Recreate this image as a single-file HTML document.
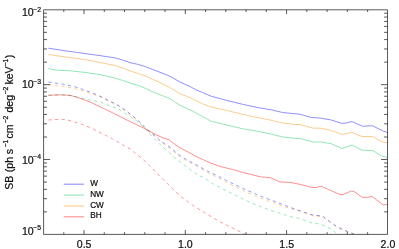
<!DOCTYPE html><html><head><meta charset="utf-8"><style>html,body{margin:0;padding:0;background:#fff}svg{display:block;will-change:transform}.c{mix-blend-mode:multiply}text{font-family:"Liberation Sans",sans-serif;fill:#111;stroke:#111;stroke-width:0.22px}</style></head><body>
<svg width="399" height="249" viewBox="0 0 399 249">
<rect width="399" height="249" fill="#fff"/>
<polyline class="c" points="48.40,48.20 65.00,50.75 77.50,52.50 90.00,54.25 100.00,55.60 115.00,57.90 122.50,60.00 130.00,62.60 137.60,64.30 145.00,66.50 152.50,69.40 165.00,74.25 170.00,76.25 180.00,82.00 190.00,86.50 196.25,90.00 202.50,92.50 211.25,96.25 222.50,99.25 230.00,101.25 242.50,104.25 255.00,107.00 267.50,109.25 270.00,109.50 282.50,112.50 295.00,113.75 300.00,114.25 311.25,117.50 320.00,118.00 331.25,120.00 341.25,123.25 345.00,123.25 352.00,121.60 362.50,126.25 372.50,125.75 382.50,130.75 387.50,132.50" fill="none" stroke="#8c8cff" stroke-width="0.97"/>
<polyline class="c" points="48.40,68.30 52.00,69.50 56.00,70.10 70.00,70.80 85.00,72.40 100.00,74.60 107.50,76.30 115.00,78.10 122.50,80.40 130.00,83.00 137.60,85.30 141.40,86.50 152.50,91.75 165.00,96.75 170.00,98.75 180.00,105.25 192.50,111.00 202.50,116.50 211.25,121.25 230.00,125.75 242.50,128.75 255.00,130.75 267.50,133.25 270.00,133.75 282.50,137.00 295.00,138.25 301.25,138.75 312.50,142.00 321.25,142.00 331.25,143.75 342.00,148.50 352.00,145.00 362.00,150.25 372.50,150.50 382.50,156.25 387.50,157.50" fill="none" stroke="#8fe6b4" stroke-width="0.97"/>
<polyline class="c" points="48.40,54.50 65.00,56.90 77.50,58.50 90.00,60.50 100.00,62.50 115.00,65.50 122.50,67.90 130.00,70.90 137.60,73.30 145.00,75.90 152.50,79.20 165.00,85.00 170.00,87.50 180.00,93.75 192.50,98.75 202.50,103.75 211.25,107.00 222.50,109.50 230.00,111.25 242.50,114.25 255.00,117.00 267.50,119.50 270.00,120.00 282.50,123.00 295.00,124.50 300.00,124.50 312.50,128.00 321.25,128.25 331.25,130.50 342.00,134.50 352.00,132.50 362.00,136.50 372.50,136.50 382.50,142.00 387.50,142.50" fill="none" stroke="#ffc88c" stroke-width="0.97"/>
<polyline class="c" points="48.40,95.30 60.00,94.80 70.00,95.30 77.50,97.40 90.00,102.00 102.50,107.90 112.50,112.80 125.00,119.10 137.50,125.20 146.25,129.30 150.00,131.40 157.00,135.30 164.00,138.20 169.00,139.70 174.00,143.80 178.00,146.60 185.00,150.50 190.00,153.00 195.00,155.80 200.00,158.30 205.00,160.50 210.00,162.80 215.00,164.60 220.00,166.40 232.50,169.50 245.00,173.00 261.25,177.00 270.00,177.50 280.00,182.00 290.00,182.40 300.90,184.50 311.90,187.50 316.00,187.50 321.40,186.20 330.00,190.30 340.00,194.50 343.00,194.50 351.50,191.00 354.00,191.50 362.20,197.30 367.70,197.30 372.00,196.50 382.90,204.70 387.50,204.70" fill="none" stroke="#ff8c8c" stroke-width="0.97"/>
<polyline class="c" points="48.40,95.20 60.00,94.80 70.00,95.40 77.50,97.20 90.00,100.00 101.00,102.30 106.00,104.30 112.10,106.60 118.10,108.60 123.60,112.10 128.60,115.60 133.70,119.10 137.50,121.50 146.25,129.50 151.40,135.70 156.30,140.70 161.20,145.60 166.20,150.00 171.10,154.30 175.30,158.30 180.00,162.00 192.50,171.25 200.00,176.00 205.00,178.25 212.50,183.50 220.00,187.50 230.00,192.50 242.50,198.75 255.00,204.50 267.50,209.25 277.50,212.50 290.00,216.40 293.50,217.20 300.00,218.60 306.60,221.10 312.60,223.30 318.60,223.80 324.60,225.60 330.40,228.90 335.60,232.50 337.20,234.00" fill="none" stroke="#8fe6b4" stroke-width="0.9" stroke-dasharray="3.2 3.4"/>
<polyline class="c" points="48.40,84.50 65.00,86.75 77.50,89.25 90.00,93.25 97.50,95.80 104.50,99.00 110.60,102.00 116.10,104.50 121.60,108.10 126.60,111.90 131.70,116.30 136.70,119.80 146.25,129.60 150.00,133.00 155.60,137.20 159.80,141.20 164.70,144.70 170.40,148.50 175.50,153.00 180.00,156.60 185.60,160.20 191.10,163.30 196.60,166.30 202.10,169.40 207.70,172.70 217.50,177.60 230.00,184.20 242.00,190.00 248.00,192.80 253.80,195.00 259.50,197.70 265.50,200.00 271.50,202.00 277.60,204.10 283.10,206.10 289.10,208.20 296.00,210.00 301.50,211.60 307.60,214.00 313.60,215.90 320.10,216.30 322.50,216.50 325.20,218.70 330.70,222.70 336.50,226.90 341.80,229.50 347.90,232.20 354.00,234.60" fill="none" stroke="#ffc88c" stroke-width="0.9" stroke-dasharray="3.2 3.4"/>
<polyline class="c" points="48.40,82.00 65.00,84.50 77.50,87.50 90.00,92.00 97.50,95.00 104.50,98.40 110.60,101.60 116.10,104.10 121.60,107.50 126.60,111.10 131.70,115.40 136.70,118.90 146.25,128.60 150.00,132.00 155.60,136.20 159.80,140.20 164.70,143.70 170.40,147.50 175.50,152.00 180.00,155.60 185.60,159.00 191.10,162.10 196.60,165.10 202.10,168.10 207.70,171.30 217.50,175.80 230.00,182.30 242.00,188.00 248.00,190.80 253.80,193.00 259.50,195.70 265.50,198.10 271.50,200.20 277.60,202.50 283.10,204.60 289.10,206.90 296.00,209.50 301.50,211.20 307.60,213.40 313.60,215.30 320.10,215.70 322.50,215.90 325.20,218.10 330.70,222.10 336.50,226.30 341.80,228.90 347.90,231.60 354.00,234.00" fill="none" stroke="#8c8cff" stroke-width="0.9" stroke-dasharray="3.2 3.4"/>
<polyline class="c" points="48.40,120.00 60.00,119.25 65.00,119.50 72.50,121.25 82.50,124.50 90.00,127.50 97.50,131.25 105.00,135.00 112.50,138.75 125.00,146.25 130.00,148.75 137.50,155.00 142.50,158.75 155.00,171.25 167.50,183.75 180.00,196.00 192.50,205.20 205.00,213.00 209.00,215.30 217.50,220.40 220.70,222.10 230.00,226.80 237.90,230.60 245.00,234.20" fill="none" stroke="#ff8c8c" stroke-width="0.9" stroke-dasharray="3.2 3.4"/>
<path d="M43.6,9.8H387.5V234.4H43.6ZM63.77,234.4v-2.2M63.77,9.8v2.2M84.03,234.4v-4.3M84.03,9.8v4.3M104.28,234.4v-2.2M104.28,9.8v2.2M124.53,234.4v-2.2M124.53,9.8v2.2M144.79,234.4v-2.2M144.79,9.8v2.2M165.05,234.4v-2.2M165.05,9.8v2.2M185.30,234.4v-4.3M185.30,9.8v4.3M205.56,234.4v-2.2M205.56,9.8v2.2M225.81,234.4v-2.2M225.81,9.8v2.2M246.07,234.4v-2.2M246.07,9.8v2.2M266.32,234.4v-2.2M266.32,9.8v2.2M286.58,234.4v-4.3M286.58,9.8v4.3M306.83,234.4v-2.2M306.83,9.8v2.2M327.09,234.4v-2.2M327.09,9.8v2.2M347.34,234.4v-2.2M347.34,9.8v2.2M367.60,234.4v-2.2M367.60,9.8v2.2M43.6,211.86h3.4M387.5,211.86h-3.4M43.6,198.68h3.4M387.5,198.68h-3.4M43.6,189.33h3.4M387.5,189.33h-3.4M43.6,182.07h3.4M387.5,182.07h-3.4M43.6,176.14h3.4M387.5,176.14h-3.4M43.6,171.13h3.4M387.5,171.13h-3.4M43.6,166.79h3.4M387.5,166.79h-3.4M43.6,162.96h3.4M387.5,162.96h-3.4M43.6,159.53h6.5M387.5,159.53h-6.5M43.6,137.00h3.4M387.5,137.00h-3.4M43.6,123.81h3.4M387.5,123.81h-3.4M43.6,114.46h3.4M387.5,114.46h-3.4M43.6,107.20h3.4M387.5,107.20h-3.4M43.6,101.28h3.4M387.5,101.28h-3.4M43.6,96.26h3.4M387.5,96.26h-3.4M43.6,91.92h3.4M387.5,91.92h-3.4M43.6,88.09h3.4M387.5,88.09h-3.4M43.6,84.67h6.5M387.5,84.67h-6.5M43.6,62.13h3.4M387.5,62.13h-3.4M43.6,48.95h3.4M387.5,48.95h-3.4M43.6,39.59h3.4M387.5,39.59h-3.4M43.6,32.34h3.4M387.5,32.34h-3.4M43.6,26.41h3.4M387.5,26.41h-3.4M43.6,21.40h3.4M387.5,21.40h-3.4M43.6,17.06h3.4M387.5,17.06h-3.4M43.6,13.23h3.4M387.5,13.23h-3.4" fill="none" stroke="#2a2a2a" stroke-width="0.78"/>
<text x="84.12" y="248.1" font-size="10.55" text-anchor="middle">0.5</text>
<text x="185.40" y="248.1" font-size="10.55" text-anchor="middle">1.0</text>
<text x="286.68" y="248.1" font-size="10.55" text-anchor="middle">1.5</text>
<text x="387.95" y="248.1" font-size="10.55" text-anchor="middle">2.0</text>
<text x="22.0" y="16.25" font-size="10.55">10</text><text x="33.2" y="11.55" font-size="6.8">−2</text>
<text x="22.0" y="88.45" font-size="10.55">10</text><text x="33.2" y="83.75" font-size="6.8">−3</text>
<text x="22.0" y="163.85" font-size="10.55">10</text><text x="33.2" y="159.15" font-size="6.8">−4</text>
<text x="22.0" y="235.05" font-size="10.55">10</text><text x="33.2" y="230.35" font-size="6.8">−5</text>
<g transform="translate(12.5,189.2) rotate(-90)"><text x="-0.5" y="0" font-size="10.55">SB</text><text x="17.0" y="0" font-size="10.55">(ph</text><text x="35.0" y="0" font-size="10.55">s</text><text x="41.6" y="-4.3" font-size="6.9">−1</text><text x="50.6" y="0" font-size="10.55">cm</text><text x="65.6" y="-4.3" font-size="6.9">−2</text><text x="76.6" y="0" font-size="10.55">deg</text><text x="94.6" y="-4.3" font-size="6.9">−2</text><text x="104.6" y="0" font-size="10.55">keV</text><text x="122.6" y="-4.3" font-size="6.9">−1</text><text x="130.9" y="0" font-size="10.55">)</text></g>
<line x1="63.7" x2="83.9" y1="184.20" y2="184.20" stroke="#8c8cff" stroke-width="1.1"/>
<text x="90.2" y="185.85" font-size="8.2">W</text>
<line x1="63.7" x2="83.9" y1="195.07" y2="195.07" stroke="#8fe6b4" stroke-width="1.1"/>
<text x="90.2" y="196.72" font-size="8.2">NW</text>
<line x1="63.7" x2="83.9" y1="205.94" y2="205.94" stroke="#ffc88c" stroke-width="1.1"/>
<text x="90.2" y="207.59" font-size="8.2">CW</text>
<line x1="63.7" x2="83.9" y1="216.81" y2="216.81" stroke="#ff8c8c" stroke-width="1.1"/>
<text x="90.2" y="218.46" font-size="8.2">BH</text>
</svg></body></html>
